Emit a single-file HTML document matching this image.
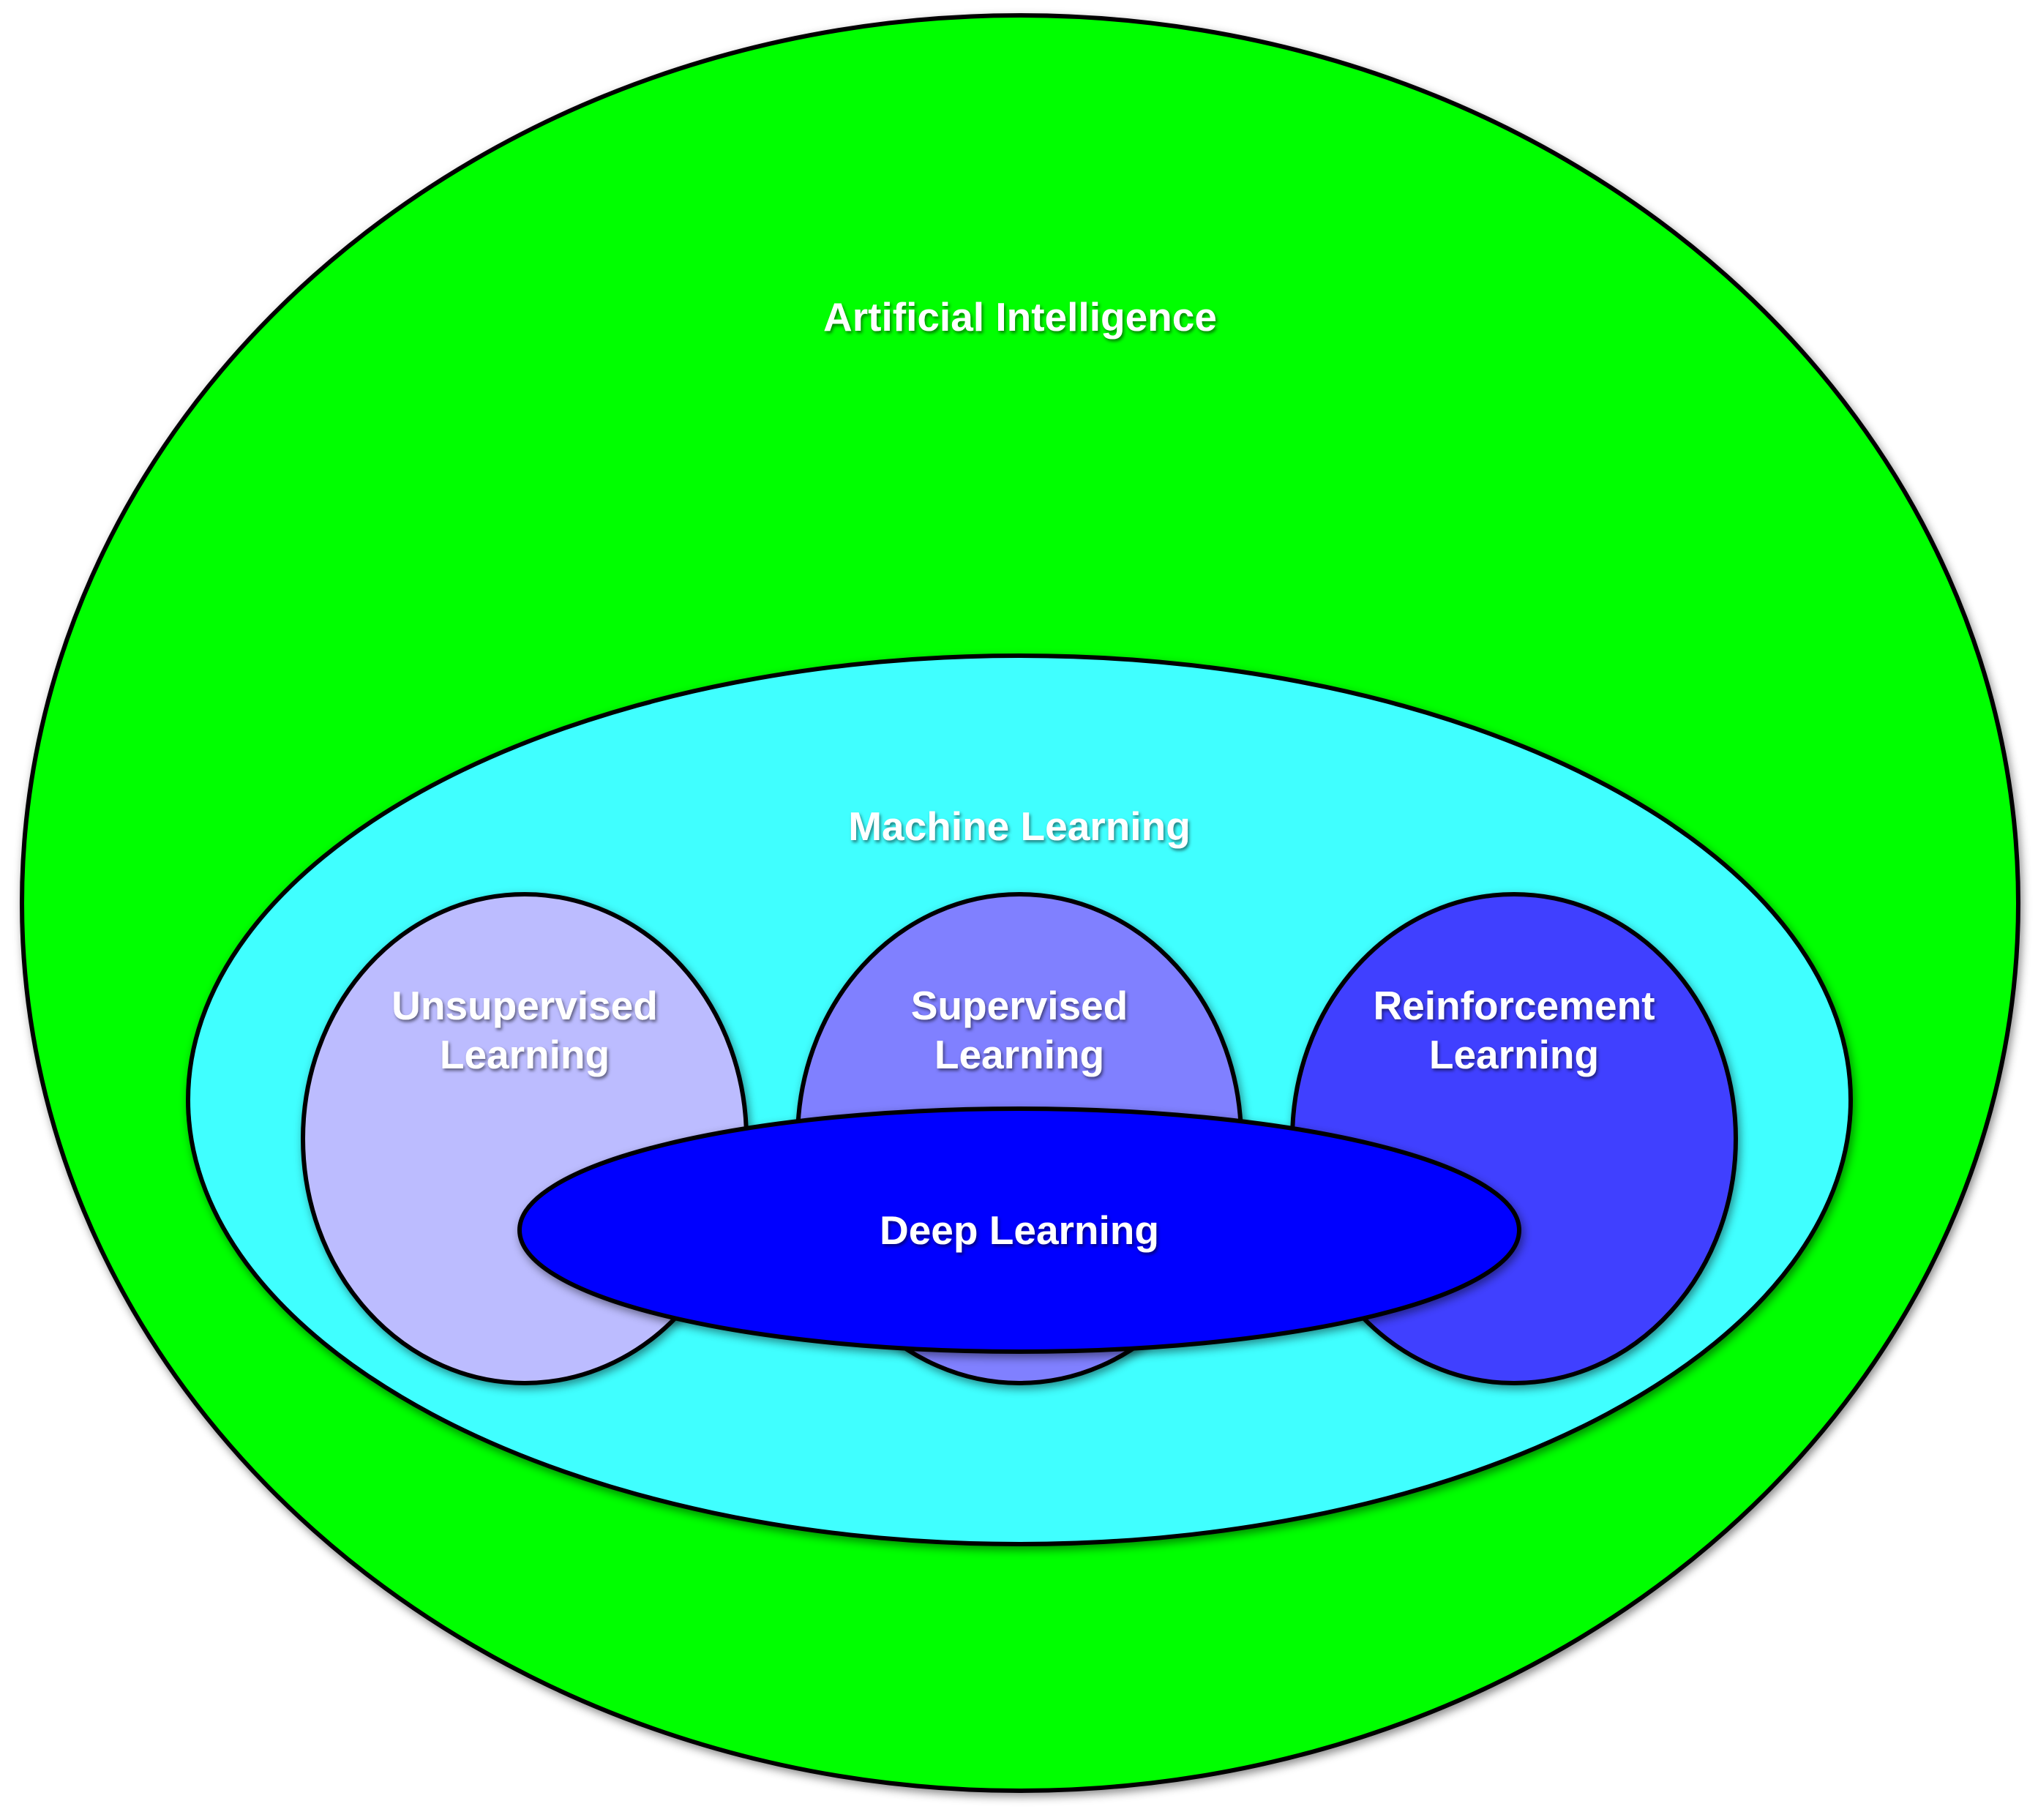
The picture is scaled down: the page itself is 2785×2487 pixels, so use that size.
<!DOCTYPE html>
<html><head><meta charset="utf-8"><style>
html,body{margin:0;padding:0;background:#fff;}
svg text{font-family:"Liberation Sans",sans-serif;font-weight:bold;fill:#fff;text-anchor:middle;font-size:55px;}
</style></head><body>
<svg width="2785" height="2482" viewBox="0 0 2785 2482" xmlns="http://www.w3.org/2000/svg">
<defs>
<filter id="sh" x="-10%" y="-10%" width="120%" height="120%">
<feDropShadow dx="3" dy="5" stdDeviation="6" flood-color="#000" flood-opacity="0.45"/>
</filter>
<filter id="ts"><feDropShadow dx="2" dy="3" stdDeviation="2" flood-color="#000" flood-opacity="0.5"/></filter>
</defs>
<g stroke="#000" stroke-width="6">
<ellipse cx="1394" cy="1234" rx="1364" ry="1213" fill="#00ff00" filter="url(#sh)"/>
<ellipse cx="1393" cy="1503" rx="1136" ry="607" fill="#40ffff" filter="url(#sh)"/>
<ellipse cx="717" cy="1556" rx="303" ry="334" fill="#bcbcff" filter="url(#sh)"/>
<ellipse cx="1393" cy="1556" rx="303" ry="334" fill="#8080ff" filter="url(#sh)"/>
<ellipse cx="2069" cy="1556" rx="303" ry="334" fill="#4040ff" filter="url(#sh)"/>
<ellipse cx="1393" cy="1681" rx="683" ry="166" fill="#0000ff" filter="url(#sh)"/>
</g>
<g filter="url(#ts)">
<text x="1394" y="452">Artificial Intelligence</text>
<text x="1393" y="1148">Machine Learning</text>
<text x="717" y="1393">Unsupervised</text>
<text x="717" y="1460">Learning</text>
<text x="1393" y="1393">Supervised</text>
<text x="1393" y="1460">Learning</text>
<text x="2069" y="1393">Reinforcement</text>
<text x="2069" y="1460">Learning</text>
<text x="1393" y="1700">Deep Learning</text>
</g>
</svg>
</body></html>
